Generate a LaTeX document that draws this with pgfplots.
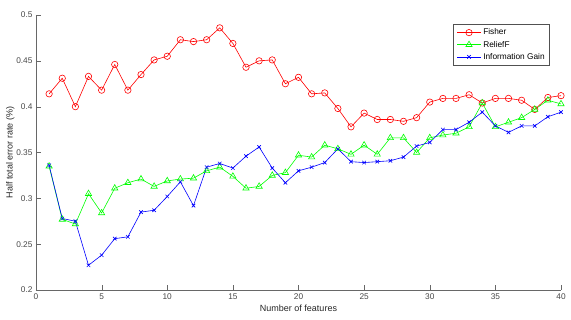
\documentclass[border=0pt]{standalone}
\usepackage{pgfplots}
\pgfplotsset{compat=1.18}
\usepackage{fontspec}
\setmainfont{Liberation Sans}

\definecolor{axgray}{RGB}{38,38,38}
\definecolor{fisherc}{RGB}{255,0,0}
\definecolor{reliefc}{RGB}{0,255,0}
\definecolor{igc}{RGB}{0,0,255}

\pgfplotstableread{
n fisher relief ig
1  0.414 0.335 0.336
2  0.431 0.277 0.278
3  0.400 0.272 0.275
4  0.433 0.305 0.227
5  0.418 0.284 0.238
6  0.446 0.311 0.256
7  0.418 0.317 0.258
8  0.435 0.321 0.285
9  0.451 0.313 0.287
10 0.455 0.319 0.302
11 0.473 0.321 0.318
12 0.471 0.322 0.292
13 0.473 0.330 0.334
14 0.486 0.334 0.338
15 0.469 0.324 0.333
16 0.443 0.311 0.346
17 0.450 0.313 0.356
18 0.451 0.325 0.333
19 0.425 0.328 0.317
20 0.432 0.347 0.330
21 0.414 0.345 0.334
22 0.415 0.358 0.339
23 0.398 0.354 0.354
24 0.378 0.348 0.340
25 0.393 0.358 0.339
26 0.386 0.348 0.340
27 0.386 0.366 0.341
28 0.384 0.366 0.345
29 0.388 0.350 0.357
30 0.405 0.366 0.361
31 0.409 0.369 0.375
32 0.409 0.371 0.375
33 0.413 0.378 0.383
34 0.404 0.404 0.394
35 0.409 0.378 0.379
36 0.409 0.383 0.372
37 0.407 0.388 0.379
38 0.397 0.397 0.379
39 0.410 0.407 0.389
40 0.412 0.403 0.394
}\errdata

\begin{document}
\begin{tikzpicture}
\begin{axis}[
  scale only axis,
  width=525pt, height=275pt,
  xmin=0, xmax=40, ymin=0.2, ymax=0.5,
  xtick={0,5,...,40},
  ytick={0.2,0.25,0.3,0.35,0.4,0.45,0.5},
  yticklabel style={/pgf/number format/fixed, /pgf/number format/precision=2},
  axis lines=left,
  axis line style={axgray!70, -},
  tick align=inside,
  major tick length=4.5pt,
  tick style={axgray!70},
  tick label style={font=\fontsize{8.3}{10}\selectfont, text=axgray!85},
  /pgf/number format/assume math mode=true,
  xlabel={Number of features},
  ylabel={Half total error rate (\%)},
  label style={font=\fontsize{9}{11}\selectfont, text=axgray},
  xlabel style={yshift=1pt},
  ylabel style={yshift=-5pt},
  legend style={at={(rel axis cs:0.979,0.967)}, anchor=north east,
    font=\fontsize{8.3}{10}\selectfont, draw=axgray!80, line width=0.6pt,
    inner xsep=3pt, inner ysep=2.5pt, row sep=0.6pt, cells={anchor=west}},
  legend cell align=left,
  legend image code/.code={
    \draw[mark repeat=2, mark phase=2] plot coordinates {(0pt,0pt) (12pt,0pt) (24pt,0pt)};},
  every axis plot/.append style={line width=0.6pt},
]
\addplot[color=fisherc, mark=o, mark size=3.2pt] table[x=n, y=fisher] {\errdata};
\addlegendentry{Fisher}
\addplot[color=reliefc, mark=triangle, mark size=3.6pt] table[x=n, y=relief] {\errdata};
\addlegendentry{ReliefF}
\addplot[color=igc, mark=x, mark size=2.5pt] table[x=n, y=ig] {\errdata};
\addlegendentry{Information Gain}
\coordinate (ll) at (rel axis cs:0,0);
\coordinate (ur) at (rel axis cs:1,1);
\end{axis}
\pgfresetboundingbox
\path[use as bounding box] ([shift={(-36pt,-30pt)}]ll) rectangle ([shift={(10pt,15pt)}]ur);
\end{tikzpicture}
\end{document}
